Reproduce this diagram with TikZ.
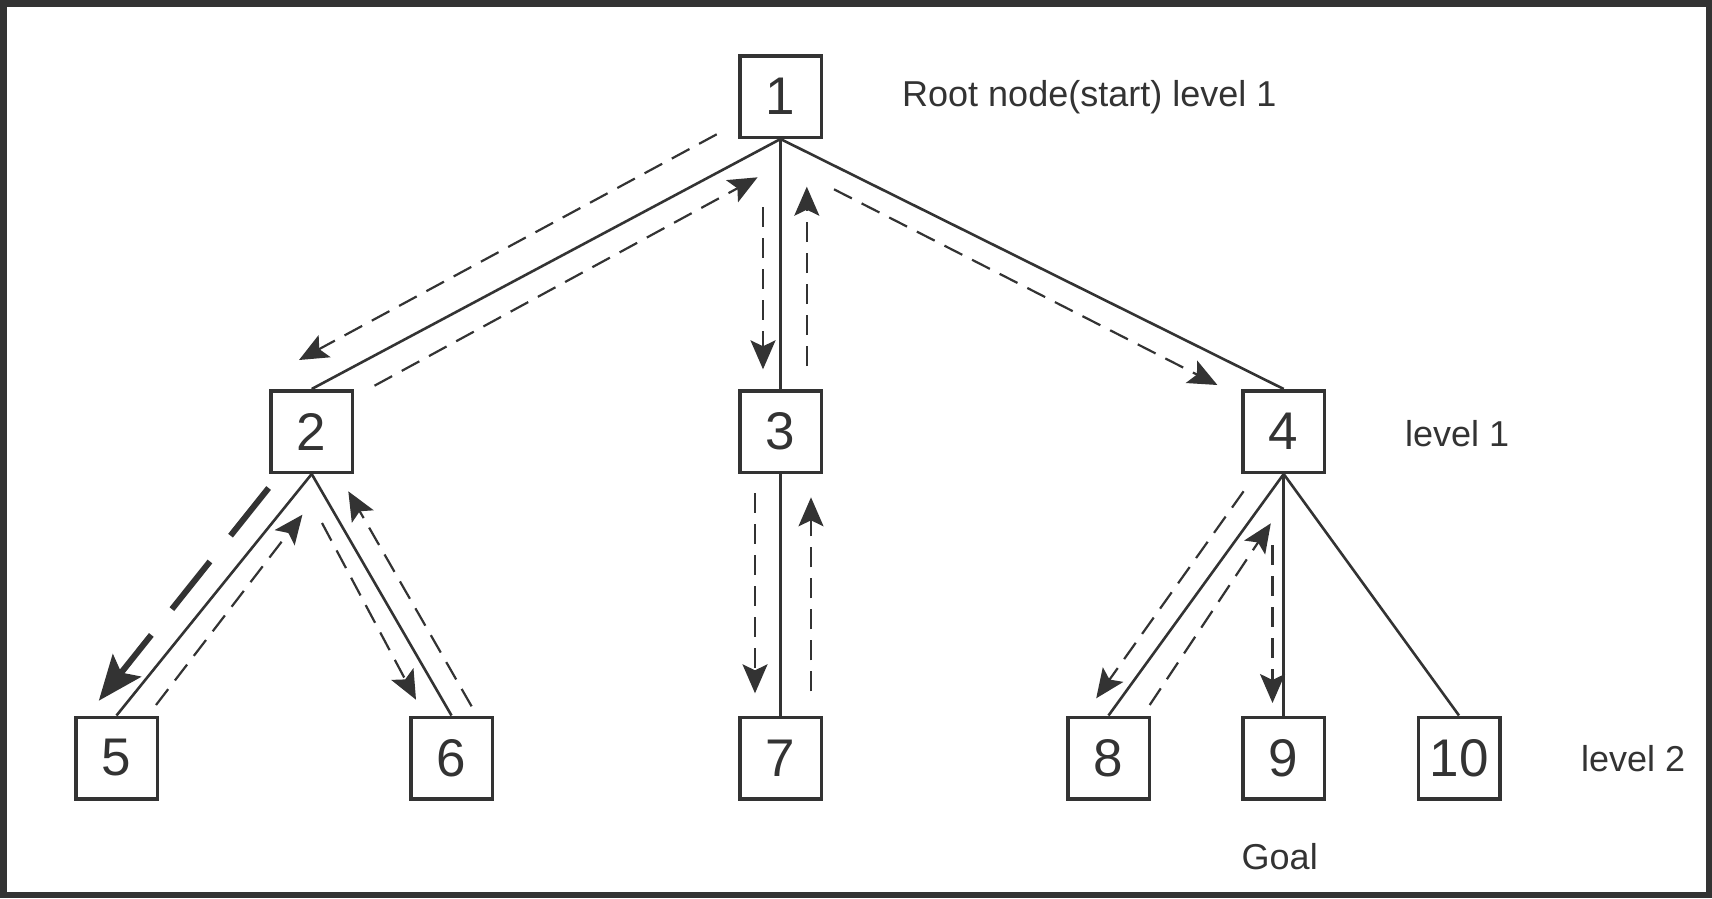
\documentclass[tikz,border=0pt]{standalone}
\usepackage{fontspec}
\setmainfont{Liberation Sans}
\usetikzlibrary{arrows.meta}
\definecolor{ink}{HTML}{333333}
\begin{document}
\begin{tikzpicture}[x=1pt,y=-1pt,
  box/.style={draw=ink, line width=3.5pt, minimum size=81.5pt, inner sep=0pt,
    text=ink, font=\fontsize{53}{53}\selectfont},
  lbl/.style={text=ink, inner sep=0pt, font=\fontsize{36}{36}\selectfont},
  edge/.style={draw=ink, line width=2.6pt},
  trav/.style={draw=ink, line width=2.2pt, dash pattern=on 20pt off 11pt,
    -{Stealth[length=29pt,width=25pt,inset=6pt]}},
  bold/.style={draw=ink, line width=6pt, dash pattern=on 61pt off 33pt,
    -{Stealth[length=45pt,width=36pt,inset=9pt]}}]
\useasboundingbox (0,0) rectangle (1712,898);
\draw[ink, line width=6.5pt] (3.25,3.25) rectangle (1708.75,894.75);

% nodes
\node[box] (n1) at (780.5,96.5) {1};
\node[box] (n2) at (311.7,431.5) {2};
\node[box] (n3) at (780.5,431.5) {3};
\node[box] (n4) at (1283.7,431.5) {4};
\node[box] (n5) at (116.5,758) {5};
\node[box] (n6) at (451.5,758) {6};
\node[box] (n7) at (780.5,758) {7};
\node[box] (n8) at (1108.5,758) {8};
\node[box] (n9) at (1283.7,758) {9};
\node[box] (n10) at (1459,758) {10};

% labels
\node[lbl, anchor=base west] (lroot) at (902,106) {Root node(start) level 1};
\node[lbl, anchor=base west] (l1) at (1405,446) {level 1};
\node[lbl, anchor=base west] (l2) at (1581,771.5) {level 2};
\node[lbl, anchor=base west] (lgoal) at (1241.5,869) {Goal};

% tree edges
\draw[edge] (n1.south) -- (n2.north);
\draw[edge] (n1.south) -- (n3.north);
\draw[edge] (n1.south) -- (n4.north);
\draw[edge] (n2.south) -- (n5.north);
\draw[edge] (n2.south) -- (n6.north);
\draw[edge] (n3.south) -- (n7.north);
\draw[edge] (n4.south) -- (n8.north);
\draw[edge] (n4.south) -- (n9.north);
\draw[edge] (n4.south) -- (n10.north);

% traversal arrow end points
\coordinate (a1) at (716.7,134.3);  \coordinate (a2) at (299,360);
\coordinate (b1) at (374.5,385.7);  \coordinate (b2) at (757.6,177.3);
\coordinate (c1) at (763,207);      \coordinate (c2) at (763,369.3);
\coordinate (d1) at (806.8,366);    \coordinate (d2) at (806.8,186.7);
\coordinate (e1) at (834,189.3);    \coordinate (e2) at (1217.4,385);
\coordinate (f1) at (268.6,488);    \coordinate (f2) at (98.8,700.7);
\coordinate (g1) at (156,705);      \coordinate (g2) at (302.4,514.7);
\coordinate (h1) at (322,523);      \coordinate (h2) at (416,699.7);
\coordinate (i1) at (471.6,706.3);  \coordinate (i2) at (348.3,491.3);
\coordinate (j1) at (755,493.3);    \coordinate (j2) at (755,693.3);
\coordinate (k1) at (811,691.3);    \coordinate (k2) at (811,497.3);
\coordinate (m1) at (1243.6,491.3); \coordinate (m2) at (1096.2,698.3);
\coordinate (p1) at (1149.7,705);   \coordinate (p2) at (1270.8,523.3);
\coordinate (q1) at (1272.5,545);   \coordinate (q2) at (1272.5,703);

% traversal arrows
\draw[trav] (a1) -- (a2);
\draw[trav] (b1) -- (b2);
\draw[trav] (c1) -- (c2);
\draw[trav] (d1) -- (d2);
\draw[trav] (e1) -- (e2);
\draw[bold] (f1) -- (f2);
\draw[trav] (g1) -- (g2);
\draw[trav] (h1) -- (h2);
\draw[trav] (i1) -- (i2);
\draw[trav] (j1) -- (j2);
\draw[trav] (k1) -- (k2);
\draw[trav] (m1) -- (m2);
\draw[trav] (p1) -- (p2);
\draw[trav] (q1) -- (q2);
\end{tikzpicture}
\end{document}
